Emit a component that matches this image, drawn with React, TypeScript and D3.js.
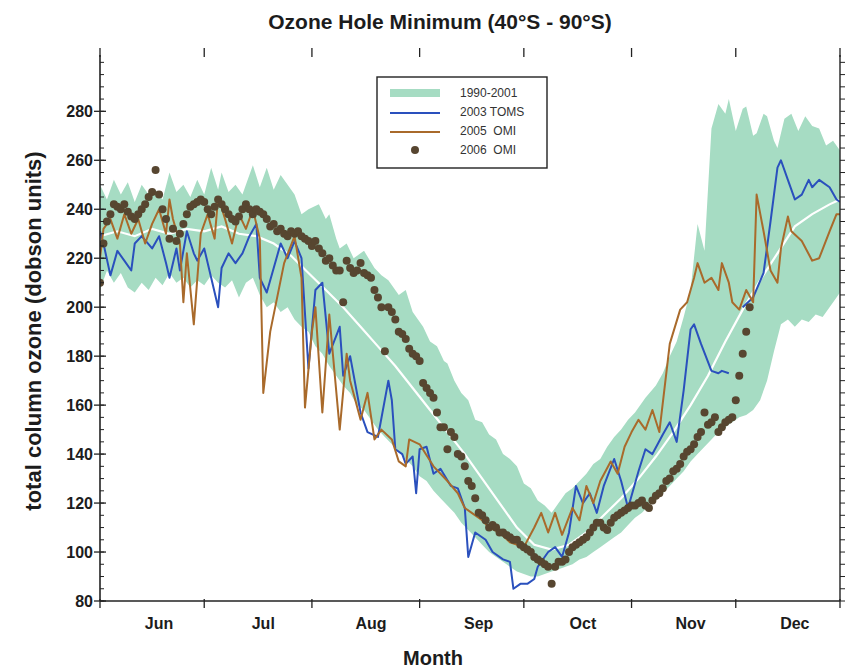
import React from "react";
import * as d3 from "d3";

// ---------- DATA (day index counted from 1 June) ----------
const monthLabels = ["Jun", "Jul", "Aug", "Sep", "Oct", "Nov", "Dec"];
const yTickValues = [80, 100, 120, 140, 160, 180, 200, 220, 240, 260, 280];

// 1990-2001 range (upper / lower envelope): [day, DU]
const bandUpper: [number, number][] = [
  [0, 250], [2, 244], [4, 252], [6, 246], [8, 251], [10, 243], [12, 250], [14, 246], [16, 248], [18, 244],
  [20, 255], [22, 247], [24, 250], [26, 245], [28, 252], [30, 246], [32, 257], [34, 248], [35, 255], [37, 247],
  [39, 250], [41, 246], [44, 258], [46, 249], [48, 257], [50, 248], [52, 254], [54, 250], [56, 246], [58, 238],
  [60, 240], [63, 242], [65, 236], [66, 238], [68, 228], [69, 224], [71, 226], [73, 220], [76, 223], [79, 216],
  [81, 213], [83, 211], [86, 205], [88, 207], [90, 198], [93, 192], [95, 186], [97, 184], [99, 178], [100, 177],
  [102, 170], [104, 165], [106, 162], [108, 154], [110, 153], [112, 148], [114, 146], [116, 140], [118, 138],
  [120, 135], [122, 128], [124, 126], [126, 121], [128, 119], [130, 116], [132, 120], [134, 124], [136, 126],
  [138, 129], [140, 132], [142, 136], [144, 138], [146, 143], [148, 147], [150, 150], [152, 154], [154, 157],
  [157, 163], [160, 168], [162, 173], [164, 180], [166, 186], [168, 196], [170, 207], [172, 234], [174, 223],
  [176, 273], [178, 283], [180, 279], [181, 285], [183, 272], [185, 281], [186, 282], [188, 270], [189, 271],
  [191, 279], [192, 278], [194, 268], [195, 265], [197, 277], [199, 279], [201, 272], [203, 278], [205, 274],
  [207, 273], [209, 266], [211, 268], [213, 264],
];
const bandLower: [number, number][] = [
  [0, 207], [2, 215], [4, 210], [6, 214], [8, 208], [10, 206], [12, 210], [14, 207], [16, 212], [18, 209],
  [20, 214], [22, 210], [24, 212], [26, 208], [28, 211], [30, 209], [32, 213], [34, 210], [36, 208], [38, 211],
  [40, 204], [42, 210], [44, 212], [46, 205], [48, 200], [50, 202], [52, 198], [54, 200], [56, 195], [58, 192],
  [60, 190], [62, 184], [64, 181], [66, 176], [68, 172], [70, 168], [72, 165], [74, 160], [76, 158], [78, 154],
  [80, 150], [82, 147], [84, 144], [86, 141], [88, 138], [90, 135], [92, 131], [94, 129], [96, 125], [98, 122],
  [100, 119], [102, 116], [104, 112], [106, 109], [108, 106], [110, 103], [112, 100], [114, 98], [116, 96],
  [118, 94], [120, 92], [122, 91], [124, 90], [126, 90], [128, 91], [130, 92], [132, 93], [134, 94], [136, 95],
  [138, 97], [140, 98], [142, 100], [144, 102], [146, 104], [148, 106], [150, 108], [152, 111], [154, 114],
  [156, 116], [158, 119], [160, 121], [162, 124], [164, 127], [166, 130], [168, 133], [170, 137], [172, 140],
  [174, 143], [176, 146], [178, 149], [180, 151], [182, 153], [184, 155], [186, 156], [188, 158], [190, 162],
  [192, 170], [194, 182], [196, 193], [198, 195], [200, 192], [202, 195], [204, 194], [206, 197], [208, 196],
  [210, 200], [212, 204], [213, 206],
];
// 1990-2001 mean (white line)
const bandMean: [number, number][] = [
  [0, 229], [5, 231], [10, 229], [15, 232], [20, 230], [25, 232], [30, 231], [35, 233], [40, 230], [45, 229],
  [50, 226], [55, 221], [60, 214], [65, 207], [70, 200], [75, 192], [80, 184], [85, 176], [90, 167], [95, 158],
  [100, 149], [105, 140], [110, 130], [115, 120], [120, 110], [125, 103], [130, 101], [135, 103], [140, 108],
  [145, 115], [150, 122], [155, 130], [160, 139], [165, 149], [170, 160], [175, 172], [180, 186], [185, 199],
  [190, 211], [195, 222], [200, 233], [205, 238], [210, 242], [213, 244],
];

// 2003 TOMS
const toms2003: [number, number | null][] = [
  [0, 231], [1, 226], [3, 213], [5, 223], [7, 219], [9, 215], [10, 226], [12, 229], [15, 224], [17, 229],
  [19, 218], [20, 212], [22, 224], [23, 215], [25, 231], [27, 222], [28, 219], [30, 224], [32, 212], [34, 200],
  [35, 216], [37, 222], [39, 218], [41, 222], [43, 229], [45, 234], [46, 212], [48, 206], [50, 216], [52, 226],
  [54, 220], [56, 227], [58, 220], [60, 175], [62, 207], [64, 210], [66, 181], [69, 192], [70, 172], [72, 180],
  [75, 157], [77, 149], [80, 147], [83, 170], [84, 162], [85, 142], [87, 140], [88, 136], [90, 139], [91, 124],
  [92, 142], [94, 143], [96, 132], [98, 134], [101, 127], [103, 126], [105, 118], [106, 98], [108, 108],
  [111, 105], [113, 100], [116, 97], [118, 96], [119, 85], [121, 87], [123, 87], [125, 89], [126, 94],
  [129, 100], [131, 102], [133, 98], [135, 108], [137, 127], [139, 120], [141, 124], [143, 116], [145, 127],
  [148, 138], [150, 129], [152, 118], [155, 133], [157, 142], [159, 140], [162, 148], [164, 153], [166, 145],
  [168, 166], [170, 191], [171, 193], [173, 185], [176, 174], [178, 173], [179, 174], [181, 173], [183, null],
  [185, 200], [188, 204], [191, 214], [193, 235], [195, 257], [196, 260], [198, 252], [200, 244], [202, 246],
  [204, 252], [205, 249], [207, 252], [210, 249], [212, 244], [213, 243],
];

// 2005 OMI
const omi2005: [number, number][] = [
  [0, 220], [1, 232], [3, 236], [5, 228], [7, 238], [9, 230], [11, 236], [13, 226], [15, 234], [17, 240],
  [19, 230], [20, 244], [21, 236], [23, 226], [24, 202], [25, 222], [27, 193], [29, 230], [31, 238], [33, 228],
  [34, 245], [36, 236], [38, 226], [40, 238], [42, 232], [44, 240], [46, 228], [47, 165], [49, 190], [51, 204],
  [53, 218], [56, 229], [58, 212], [59, 159], [61, 190], [62, 200], [64, 157], [66, 197], [69, 150], [71, 181],
  [72, 170], [75, 154], [77, 165], [79, 146], [81, 150], [84, 146], [86, 137], [88, 135], [89, 146], [92, 144],
  [96, 135], [100, 129], [103, 124], [105, 118], [107, 116], [110, 113], [112, 110], [115, 108], [118, 104],
  [122, 102], [125, 110], [127, 116], [129, 108], [131, 116], [133, 107], [136, 118], [138, 113], [140, 127],
  [142, 120], [144, 129], [147, 137], [149, 132], [151, 143], [153, 149], [155, 154], [157, 150], [159, 158],
  [161, 149], [164, 185], [167, 199], [169, 202], [171, 212], [172, 218], [174, 210], [176, 212], [178, 207],
  [179, 218], [181, 210], [182, 202], [184, 199], [186, 207], [188, 202], [189, 246], [191, 231], [193, 215],
  [195, 210], [196, 224], [198, 237], [199, 231], [202, 227], [205, 219], [207, 220], [210, 231], [212, 238],
  [213, 238],
];

// 2006 OMI daily values, index = day from 1 June
const omi2006: number[] = [
  210, 226, 235, 238, 242, 241, 240, 242, 239, 237, 236, 238, 240, 242, 245, 247, 256, 246, 240, 236,
  228, 232, 227, 230, 234, 238, 241, 242, 243, 244, 243, 240, 238, 241, 244, 242, 240, 238, 236, 235,
  237, 240, 242, 240, 238, 240, 239, 238, 236, 233, 234, 231, 232, 230, 229, 231, 230, 231, 229, 228,
  227, 225, 227, 224, 222, 219, 220, 217, 215, 215, 202, 219, 216, 214, 215, 218, 214, 213, 212, 207,
  204, 200, 182, 200, 198, 195, 190, 189, 187, 183, 181, 180, 178, 169, 167, 165, 163, 157, 151, 151,
  142, 149, 147, 140, 139, 135, 129, 127, 122, 116, 115, 113, 110, 111, 110, 108, 108, 107, 106, 105,
  105, 103, 102, 101, 100, 98, 97, 96, 95, 94, 87, 94, 96, 96, 97, 100, 102, 103, 104, 105,
  106, 108, 110, 112, 112, 110, 109, 112, 114, 115, 116, 117, 118, 119, 119, 120, 121, 119, 118, 121,
  123, 124, 126, 129, 130, 133, 134, 136, 139, 141, 142, 144, 147, 149, 157, 152, 153, 155, 149, 151,
  153, 154, 155, 162, 172, 181, 190, 200,
];

const legendItems = ["1990-2001", "2003 TOMS", "2005  OMI", "2006  OMI"];

// ---------- CHART ----------
const W = 848;
const H = 671;
const PL = 100, PR = 840, PT = 55, PB = 601;
const DAY = 86400000;
const START = Date.UTC(2006, 5, 1);
const END = Date.UTC(2006, 11, 31);
const dayDate = (d: number) => new Date(START + d * DAY);

const COL_BAND = "#a6dcc3";
const COL_BLUE = "#2a50bd";
const COL_BROWN = "#a96a2b";
const COL_DOT = "#574630";
const FONT = "'Liberation Sans', Arial, Helvetica, sans-serif";

export default function App() {
  const x = d3.scaleUtc().domain([new Date(START), new Date(END)]).range([PL, PR]);
  const y = d3.scaleLinear().domain([80, 303]).range([PB, PT]);

  const pt = (d: [number, number | null]) => [x(dayDate(d[0])), y(d[1] as number)] as [number, number];

  const poly = bandUpper.map(pt).concat(bandLower.slice().reverse().map(pt));
  const bandPath = d3.line()(poly) + "Z";

  const lineGen = d3
    .line<[number, number | null]>()
    .defined((d) => d[1] !== null)
    .x((d) => x(dayDate(d[0])))
    .y((d) => y(d[1] as number));

  const monthStarts = d3.utcMonth.range(new Date(START), new Date(END));
  const xTickPos = monthStarts.map((m) => x(m)).concat([PR]);
  const minorY = d3.range(80, 303, 5);

  return (
    <svg
      width={W}
      height={H}
      style={{ position: "fixed", left: 0, top: 0, background: "#fff" }}
      fontFamily={FONT}
    >
      <defs>
        <linearGradient id="topEdge" x1="0" x2="1" y1="0" y2="0">
          <stop offset="0" stopColor="#7fc9c9" />
          <stop offset="0.35" stopColor="#3a3a3a" />
          <stop offset="0.55" stopColor="#6a3a2a" />
          <stop offset="0.75" stopColor="#c0392b" />
          <stop offset="1" stopColor="#b03a2e" />
        </linearGradient>
        <clipPath id="plotClip">
          <rect x={PL} y={PT} width={PR - PL} height={PB - PT} />
        </clipPath>
      </defs>
      <rect x={0} y={0} width={W} height={H} fill="#fff" />

      <text x={440} y={29} textAnchor="middle" fontSize={21} fontWeight="bold" fill="#1c1c1c">
        Ozone Hole Minimum (40°S - 90°S)
      </text>

      <g clipPath="url(#plotClip)">
        <path d={bandPath} fill={COL_BAND} stroke="none" />
        <path d={lineGen(bandMean) || ""} fill="none" stroke="#fff" strokeWidth={2.2} />
        <path d={lineGen(toms2003) || ""} fill="none" stroke={COL_BLUE} strokeWidth={2} strokeLinejoin="round" />
        <path d={lineGen(omi2005) || ""} fill="none" stroke={COL_BROWN} strokeWidth={2} strokeLinejoin="round" />
        {omi2006.map((v, i) => (
          <circle key={i} cx={x(dayDate(i))} cy={y(v)} r={4} fill={COL_DOT} />
        ))}
      </g>

      {/* frame */}
      <line x1={PL} x2={PR} y1={PB} y2={PB} stroke="#222" strokeWidth={1.6} />
      <line x1={PL} x2={PL} y1={PT} y2={PB} stroke="#222" strokeWidth={1.6} />
      <line x1={PR} x2={PR} y1={PT} y2={PB} stroke="#222" strokeWidth={1.4} />
      <line x1={PL} x2={PR} y1={PT} y2={PT} stroke="url(#topEdge)" strokeWidth={2.6} />

      {/* x ticks */}
      {xTickPos.map((px, i) => (
        <g key={"xt" + i}>
          <line x1={px} x2={px} y1={PB - 2} y2={PB + 7} stroke="#222" strokeWidth={1.3} />
          <line x1={px} x2={px} y1={PT - 7} y2={PT + 2} stroke="#222" strokeWidth={1.3} />
        </g>
      ))}
      {monthStarts.map((m, i) => (
        <text
          key={"ml" + i}
          x={x(d3.utcDay.offset(m, 17))}
          y={629}
          textAnchor="middle"
          fontSize={16}
          fontWeight="bold"
          fill="#1c1c1c"
        >
          {monthLabels[i]}
        </text>
      ))}

      {/* y ticks */}
      {minorY.map((v) => (
        <g key={"my" + v}>
          <line x1={PL} x2={PL + 4} y1={y(v)} y2={y(v)} stroke="#222" strokeWidth={1} />
          <line x1={PR} x2={PR + 5} y1={y(v)} y2={y(v)} stroke="#222" strokeWidth={1} />
        </g>
      ))}
      {yTickValues.map((v) => (
        <g key={"yt" + v}>
          <line x1={PL - 6} x2={PL + 6} y1={y(v)} y2={y(v)} stroke="#222" strokeWidth={1.3} />
          <text x={93} y={y(v)} dy="0.35em" textAnchor="end" fontSize={16} fontWeight="bold" fill="#1c1c1c">
            {v}
          </text>
        </g>
      ))}

      <text
        transform={`translate(41, ${331}) rotate(-90)`}
        textAnchor="middle"
        fontSize={22}
        fontWeight="bold"
        fill="#1c1c1c"
      >
        total column ozone (dobson units)
      </text>
      <text x={433} y={665} textAnchor="middle" fontSize={20} fontWeight="bold" fill="#1c1c1c">
        Month
      </text>

      {/* legend */}
      <g>
        <rect x={377} y={77} width={170} height={91} fill="#fff" stroke="#222" strokeWidth={1.4} />
        <rect x={390} y={89} width={50} height={8} fill={COL_BAND} />
        <line x1={390} x2={440} y1={113} y2={113} stroke={COL_BLUE} strokeWidth={2} />
        <line x1={390} x2={440} y1={132} y2={132} stroke={COL_BROWN} strokeWidth={2} />
        <circle cx={415} cy={150} r={4} fill={COL_DOT} />
        {legendItems.map((t, i) => (
          <text
            key={t}
            x={460}
            y={93 + i * 19}
            dy="0.35em"
            fontSize={12}
            fill="#333"
            style={{ whiteSpace: "pre" }}
          >
            {t}
          </text>
        ))}
      </g>
    </svg>
  );
}
